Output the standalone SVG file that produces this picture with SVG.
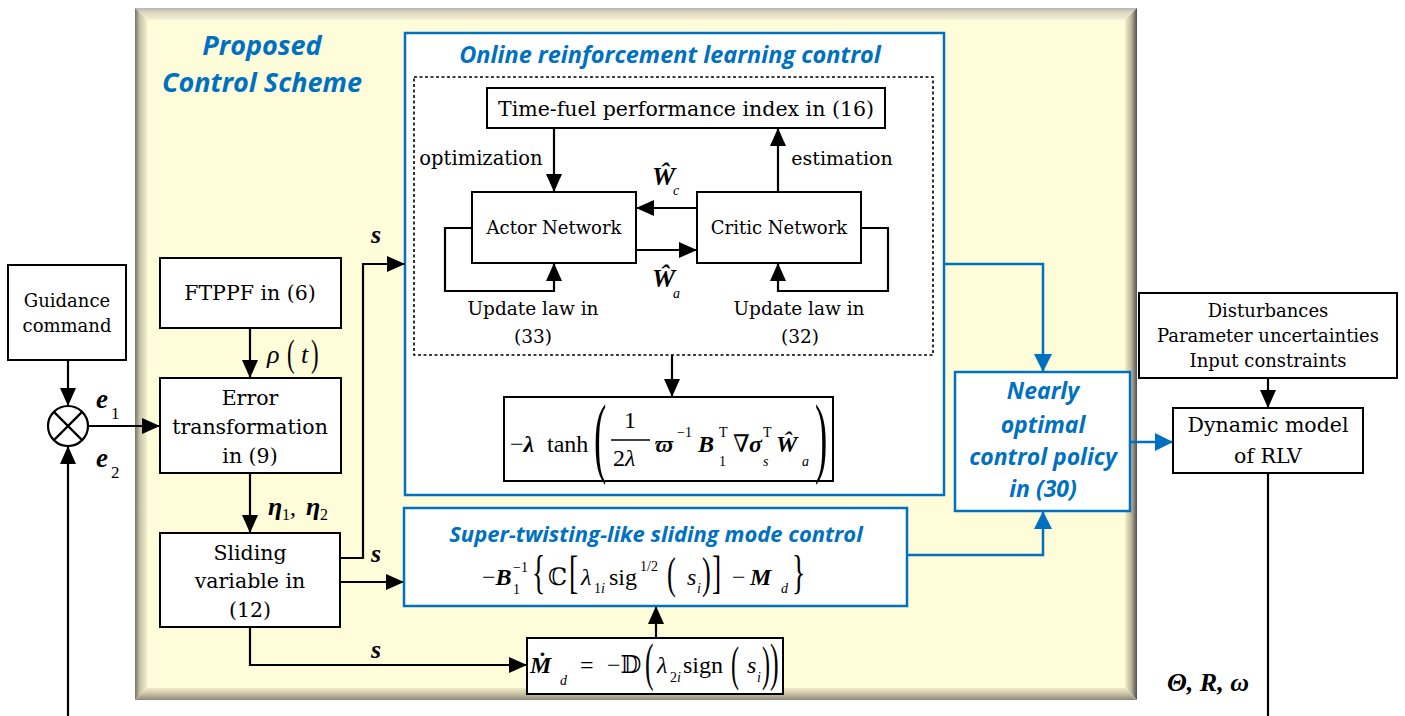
<svg xmlns="http://www.w3.org/2000/svg" width="1405" height="716" viewBox="0 0 1405 716">
<defs>
<style>
.box{fill:#fff;stroke:#000;stroke-width:2}
.bbox{fill:#fff;stroke:#0070C0;stroke-width:2.5}
.dot{fill:none;stroke:#000;stroke-width:1.6;stroke-dasharray:3 2.5}
.ln{fill:none;stroke:#000;stroke-width:2.2}
.bl{fill:none;stroke:#0070C0;stroke-width:2.5}
.t{font-family:"DejaVu Serif",serif;font-size:18px;fill:#000;text-anchor:middle}
.tl{font-size:20.5px}
.ti{font-family:"Open Sans",sans-serif;font-weight:700;font-style:italic;fill:#0070C0;text-anchor:middle}
.m{font-family:"Liberation Serif","DejaVu Serif","DejaVu Sans",serif;font-size:24px;fill:#000}
.i{font-style:italic}
.b{font-weight:700;font-style:italic}
.s{font-size:14px}
</style>
<marker id="ab" markerUnits="userSpaceOnUse" markerWidth="18" markerHeight="16" refX="18" refY="8" orient="auto"><path d="M0,0 L18,8 L0,16 z" fill="#000"/></marker>
<marker id="au" markerUnits="userSpaceOnUse" markerWidth="18" markerHeight="18" refX="18" refY="9" orient="auto"><path d="M0,0 L18,9 L0,18 z" fill="#0070C0"/></marker>
<linearGradient id="gT" x1="0" y1="0" x2="0" y2="1"><stop offset="0" stop-color="#B4B6AE"/><stop offset="0.35" stop-color="#DAD7C2"/><stop offset="1" stop-color="#F6F2D4"/></linearGradient>
<linearGradient id="gL" x1="0" y1="0" x2="1" y2="0"><stop offset="0" stop-color="#77736A"/><stop offset="0.4" stop-color="#C8C2A6"/><stop offset="1" stop-color="#F4EECE"/></linearGradient>
<linearGradient id="gR" x1="0" y1="0" x2="1" y2="0"><stop offset="0" stop-color="#F4EECE"/><stop offset="0.5" stop-color="#C0BA9E"/><stop offset="1" stop-color="#4E504E"/></linearGradient>
<linearGradient id="gB" x1="0" y1="0" x2="0" y2="1"><stop offset="0" stop-color="#F0EAC8"/><stop offset="0.5" stop-color="#C8C0A4"/><stop offset="1" stop-color="#8C877A"/></linearGradient>
</defs>
<rect width="1405" height="716" fill="#fff"/>

<g id="frame">
<rect x="147" y="20" width="978" height="668" fill="#FFFDD9"/>
<polygon points="135,8 1137,8 1125,20 147,20" fill="url(#gT)"/>
<polygon points="135,8 147,20 147,688 135,700" fill="url(#gL)"/>
<polygon points="1137,8 1137,700 1125,688 1125,20" fill="url(#gR)"/>
<polygon points="135,700 147,688 1125,688 1137,700" fill="url(#gB)"/>
<text class="ti" x="262" y="55" font-size="27">Proposed</text>
<text class="ti" x="262" y="92" font-size="27">Control Scheme</text>
</g>

<g id="rl-box">
<rect class="bbox" x="405" y="33" width="539" height="462"/>
<text class="ti" x="670" y="63" font-size="23.5">Online reinforcement learning control</text>
<rect class="dot" x="414" y="77" width="519" height="278"/>
</g>

<g id="connectors">
<path class="ln" d="M68,360 V406" marker-end="url(#ab)"/>
<path class="ln" d="M68,716 V446" marker-end="url(#ab)"/>
<path class="ln" d="M88,426 H160" marker-end="url(#ab)"/>
<path class="ln" d="M250,328 V378" marker-end="url(#ab)"/>
<path class="ln" d="M250,473 V533" marker-end="url(#ab)"/>
<path class="ln" d="M340,558 H363 V264 H405" marker-end="url(#ab)"/>
<path class="ln" d="M340,582 H404" marker-end="url(#ab)"/>
<path class="ln" d="M250,627 V665 H527" marker-end="url(#ab)"/>
<path class="ln" d="M656,638 V606" marker-end="url(#ab)"/>
<path class="ln" d="M554,128 V192" marker-end="url(#ab)"/>
<path class="ln" d="M778,192 V128" marker-end="url(#ab)"/>
<path class="ln" d="M697,208 H636" marker-end="url(#ab)"/>
<path class="ln" d="M636,250 H697" marker-end="url(#ab)"/>
<path class="ln" d="M472,228 H445 V291 H554 V263" marker-end="url(#ab)"/>
<path class="ln" d="M861,228 H888 V291 H778 V263" marker-end="url(#ab)"/>
<path class="ln" d="M672,355 V397" marker-end="url(#ab)"/>
<path class="bl" d="M944,264 H1043 V372" marker-end="url(#au)"/>
<path class="bl" d="M907,555 H1043 V511" marker-end="url(#au)"/>
<path class="bl" d="M1130,442 H1173" marker-end="url(#au)"/>
<path class="ln" d="M1268,378 V408" marker-end="url(#ab)"/>
<path class="ln" d="M1268,473 V716"/>
<text class="m b" x="371" y="243" style="font-size:26px">s</text>
<text class="m b" x="371" y="562" style="font-size:26px">s</text>
<text class="m b" x="371" y="658" style="font-size:26px">s</text>
<text class="m b" x="96" y="408" style="font-size:27px">e</text><text class="m" x="111" y="419" style="font-size:17px">1</text>
<text class="m b" x="96" y="467" style="font-size:27px">e</text><text class="m" x="111" y="478" style="font-size:17px">2</text>
<text class="m i" x="267" y="363" style="font-size:26px">ρ</text>
<text class="m" transform="translate(287,366) scale(0.6,1)" style="font-size:38px">(</text>
<text class="m i" x="301" y="363" style="font-size:26px">t</text>
<text class="m" transform="translate(311,366) scale(0.6,1)" style="font-size:38px">)</text>
<text class="m b" x="268" y="515" style="font-size:26px">η</text><text class="m" x="282" y="520" style="font-size:16px">1</text><text class="m" x="290" y="515">,</text>
<text class="m b" x="306" y="515" style="font-size:26px">η</text><text class="m" x="320" y="520" style="font-size:16px">2</text>
<text class="t" x="481" y="165" style="font-size:19.5px">optimization</text>
<text class="t" x="842" y="165" style="font-size:19px">estimation</text>
<text class="m b" x="652" y="185" style="font-size:26px">Ŵ</text><text class="m i s" x="673" y="195">c</text>
<text class="m b" x="652" y="287" style="font-size:26px">Ŵ</text><text class="m i s" x="673" y="298">a</text>
<text class="m b" x="1167" y="691" style="font-size:26px">Θ, R, ω</text>
</g>

<g id="guidance">
<rect class="box" x="8" y="265" width="118" height="95"/>
<text class="t" x="67" y="307">Guidance</text>
<text class="t" x="67" y="332">command</text>
</g>

<g id="sum">
<circle cx="68" cy="426" r="20" fill="#fff" stroke="#000" stroke-width="2.2"/>
<path d="M53.9,411.9 L82.1,440.1 M82.1,411.9 L53.9,440.1" stroke="#000" stroke-width="2.2"/>
</g>

<g id="ftppf">
<rect class="box" x="160" y="258" width="181" height="70"/>
<text class="t tl" x="250" y="300">FTPPF in (6)</text>
</g>

<g id="error">
<rect class="box" x="160" y="378" width="181" height="95"/>
<text class="t tl" x="250" y="405">Error</text>
<text class="t tl" x="250" y="434">transformation</text>
<text class="t tl" x="250" y="463">in (9)</text>
</g>

<g id="sliding">
<rect class="box" x="160" y="533" width="180" height="94"/>
<text class="t tl" x="250" y="560">Sliding</text>
<text class="t tl" x="250" y="588">variable in</text>
<text class="t tl" x="250" y="617">(12)</text>
</g>

<g id="timefuel">
<rect class="box" x="487" y="88" width="398" height="40"/>
<text class="t" x="686" y="116" style="font-size:20.5px">Time-fuel performance index in (16)</text>
</g>

<g id="actor">
<rect class="box" x="472" y="192" width="164" height="71"/>
<text class="t" x="554" y="234" style="font-size:18px">Actor Network</text>
<text class="t" x="533" y="315" style="font-size:18.5px">Update law in</text>
<text class="t" x="533" y="343" style="font-size:18.5px">(33)</text>
</g>

<g id="critic">
<rect class="box" x="697" y="192" width="164" height="71"/>
<text class="t" x="779" y="234" style="font-size:18px">Critic Network</text>
<text class="t" x="799" y="315" style="font-size:18.5px">Update law in</text>
<text class="t" x="800" y="343" style="font-size:18.5px">(32)</text>
</g>

<g id="tanh">
<rect class="box" x="504" y="397" width="329" height="84"/>
<text class="m" x="510" y="452">−<tspan class="b">λ</tspan></text>
<text class="m" x="547" y="452">tanh</text>
<text class="m" transform="translate(594,466) scale(0.42,1)" style="font-size:88px">(</text>
<text class="m" x="624" y="428">1</text>
<line x1="611" y1="440" x2="650" y2="440" stroke="#000" stroke-width="1.3"/>
<text class="m" x="613" y="466">2<tspan class="i">λ</tspan></text>
<text class="m b" x="655" y="452">ϖ</text><text class="m s" x="677" y="437">−1</text>
<text class="m b" x="698" y="452">B</text><text class="m s" x="719" y="437">T</text><text class="m s" x="719" y="466">1</text>
<text class="m" x="733" y="452">∇</text>
<text class="m b" x="749" y="452">σ</text><text class="m s" x="763" y="437">T</text><text class="m i s" x="763" y="466">s</text>
<text class="m b" x="776" y="452">Ŵ</text><text class="m i s" x="802" y="466">a</text>
<text class="m" transform="translate(815,466) scale(0.42,1)" style="font-size:88px">)</text>
</g>

<g id="stsmc">
<rect class="bbox" x="404" y="508" width="503" height="98"/>
<text class="ti" x="656" y="542" font-size="22">Super-twisting-like sliding mode control</text>
<text class="m" x="482" y="585">−<tspan class="b">B</tspan></text><text class="m s" x="513" y="572">−1</text><text class="m s" x="513" y="594">1</text>
<text class="m" transform="translate(532,588) scale(0.6,1)" style="font-size:46px">{</text>
<text class="m" x="548" y="585">ℂ</text>
<text class="m" transform="translate(569,588) scale(0.6,1)" style="font-size:46px">[</text>
<text class="m i" x="581" y="585">λ</text><text class="m s" x="594" y="593">1<tspan class="i">i</tspan></text>
<text class="m" x="609" y="585">sig</text><text class="m s" x="640" y="571">1/2</text>
<text class="m" transform="translate(667,588) scale(0.6,1)" style="font-size:44px">(</text>
<text class="m i" x="687" y="585">s</text><text class="m i s" x="697" y="593">i</text>
<text class="m" transform="translate(702,588) scale(0.6,1)" style="font-size:44px">)</text>
<text class="m" transform="translate(712,588) scale(0.6,1)" style="font-size:46px">]</text>
<text class="m" x="732" y="585">−</text>
<text class="m b" x="750" y="585">M</text><text class="m i s" x="781" y="593">d</text>
<text class="m" transform="translate(792,588) scale(0.6,1)" style="font-size:46px">}</text>
</g>

<g id="md">
<rect class="box" x="527" y="638" width="256" height="56"/>
<text class="m b" x="530" y="673">Ṁ</text><text class="m i s" x="560" y="685">d</text>
<text class="m" x="580" y="673">=</text>
<text class="m" x="607" y="673">−𝔻</text>
<text class="m" transform="translate(645,680) scale(0.5,1)" style="font-size:52px">(</text>
<text class="m i" x="657" y="673">λ</text><text class="m s" x="670" y="682">2<tspan class="i">i</tspan></text>
<text class="m" x="683" y="673">sign</text>
<text class="m" transform="translate(731,680) scale(0.5,1)" style="font-size:48px">(</text>
<text class="m i" x="747" y="673">s</text><text class="m i s" x="757" y="682">i</text>
<text class="m" transform="translate(762,680) scale(0.5,1)" style="font-size:48px">)</text>
<text class="m" transform="translate(770,680) scale(0.5,1)" style="font-size:52px">)</text>
</g>

<g id="nearly">
<rect class="bbox" x="955" y="372" width="175" height="139"/>
<text class="ti" x="1043" y="399" font-size="23">Nearly</text>
<text class="ti" x="1043" y="433" font-size="23">optimal</text>
<text class="ti" x="1043" y="465" font-size="23">control policy</text>
<text class="ti" x="1043" y="497" font-size="23">in (30)</text>
</g>

<g id="disturbances">
<rect class="box" x="1139" y="293" width="258" height="85"/>
<text class="t" x="1268" y="317">Disturbances</text>
<text class="t" x="1268" y="342">Parameter uncertainties</text>
<text class="t" x="1268" y="367">Input constraints</text>
</g>

<g id="dynamic">
<rect class="box" x="1173" y="408" width="190" height="65"/>
<text class="t tl" x="1268" y="432">Dynamic model</text>
<text class="t tl" x="1268" y="463">of RLV</text>
</g>
</svg>
